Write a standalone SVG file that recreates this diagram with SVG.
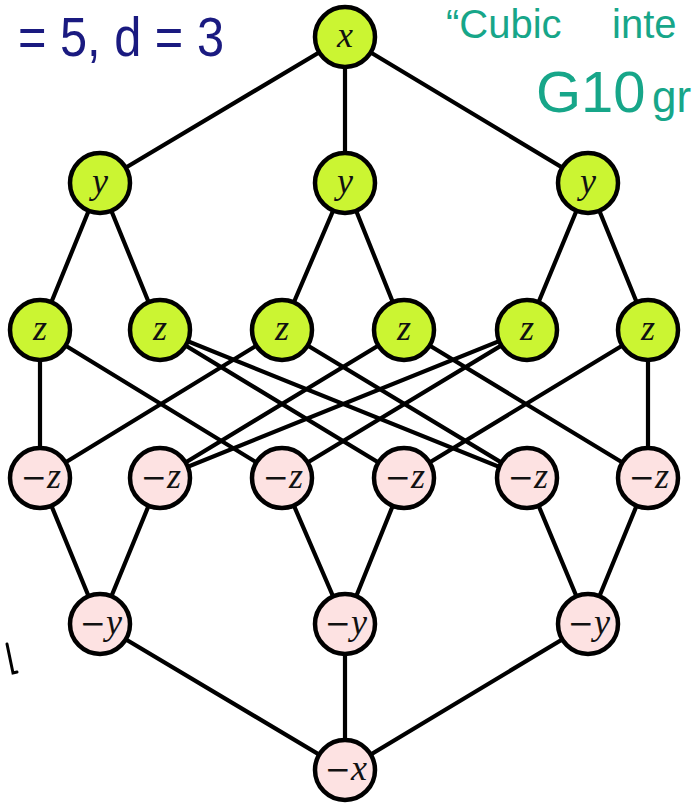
<svg xmlns="http://www.w3.org/2000/svg" width="692" height="808" viewBox="0 0 692 808">
  <defs>
    <style>
      .edge { stroke: #000; stroke-width: 4.2; stroke-linecap: round; fill: none; }
      .pos circle { fill: #cbf532; stroke: #000; stroke-width: 4.5; }
      .neg circle { fill: #fde2e2; stroke: #000; stroke-width: 4.5; }
      .lbl { font-family: "Liberation Serif", "Times New Roman", serif; font-style: italic; font-size: 36px; fill: #111; text-anchor: middle; }
      .minus { font-family: "DejaVu Serif", serif; font-style: normal; font-size: 31px; }
      .ink-blue { font-family: "Liberation Sans", Arial, sans-serif; fill: #1a1a80; }
      .ink-teal { font-family: "Liberation Sans", Arial, sans-serif; fill: #17a689; }
    </style>
  </defs>

  <rect width="692" height="808" fill="#fff"/>

  <!-- handwritten notes -->
  <text class="ink-blue" x="18" y="56" font-size="56" textLength="206" lengthAdjust="spacingAndGlyphs">= 5, d = 3</text>
  <text class="ink-teal" x="446" y="38" font-size="40">“Cubic</text>
  <text class="ink-teal" x="612" y="38" font-size="40">inte</text>
  <text class="ink-teal" x="536" y="112" font-size="58">G10</text>
  <text class="ink-teal" x="652" y="112" font-size="44">gr</text>
  <path d="M7,644 L13,673 L17,672" stroke="#000" stroke-width="3" fill="none" stroke-linecap="round"/>

  <!-- connectors -->
  <g id="edges">
    <line class="edge" x1="345" y1="37" x2="100" y2="183"/>
    <line class="edge" x1="345" y1="37" x2="345" y2="183"/>
    <line class="edge" x1="345" y1="37" x2="588" y2="183"/>

    <line class="edge" x1="100" y1="183" x2="40" y2="330"/>
    <line class="edge" x1="100" y1="183" x2="160" y2="330"/>
    <line class="edge" x1="345" y1="183" x2="282" y2="330"/>
    <line class="edge" x1="345" y1="183" x2="404" y2="330"/>
    <line class="edge" x1="588" y1="183" x2="527" y2="330"/>
    <line class="edge" x1="588" y1="183" x2="648" y2="330"/>

    <line class="edge" x1="40" y1="330" x2="40" y2="478"/>
    <line class="edge" x1="40" y1="330" x2="282" y2="478"/>
    <line class="edge" x1="160" y1="330" x2="404" y2="478"/>
    <line class="edge" x1="160" y1="330" x2="527" y2="478"/>
    <line class="edge" x1="282" y1="330" x2="40" y2="478"/>
    <line class="edge" x1="282" y1="330" x2="527" y2="478"/>
    <line class="edge" x1="404" y1="330" x2="160" y2="478"/>
    <line class="edge" x1="404" y1="330" x2="648" y2="478"/>
    <line class="edge" x1="527" y1="330" x2="160" y2="478"/>
    <line class="edge" x1="527" y1="330" x2="282" y2="478"/>
    <line class="edge" x1="648" y1="330" x2="648" y2="478"/>
    <line class="edge" x1="648" y1="330" x2="404" y2="478"/>

    <line class="edge" x1="40" y1="478" x2="100" y2="624"/>
    <line class="edge" x1="160" y1="478" x2="100" y2="624"/>
    <line class="edge" x1="282" y1="478" x2="345" y2="624"/>
    <line class="edge" x1="404" y1="478" x2="345" y2="624"/>
    <line class="edge" x1="527" y1="478" x2="588" y2="624"/>
    <line class="edge" x1="648" y1="478" x2="588" y2="624"/>

    <line class="edge" x1="100" y1="624" x2="345" y2="770"/>
    <line class="edge" x1="345" y1="624" x2="345" y2="770"/>
    <line class="edge" x1="588" y1="624" x2="345" y2="770"/>
  </g>

  <!-- positive layer -->
  <g id="x" class="pos"><circle cx="345" cy="37" r="30"/><text class="lbl" x="345" y="47">x</text></g>
  <g id="y1" class="pos"><circle cx="100" cy="183" r="30"/><text class="lbl" x="100" y="193">y</text></g>
  <g id="y2" class="pos"><circle cx="345" cy="183" r="30"/><text class="lbl" x="345" y="193">y</text></g>
  <g id="y3" class="pos"><circle cx="588" cy="183" r="30"/><text class="lbl" x="588" y="193">y</text></g>
  <g id="z1" class="pos"><circle cx="40" cy="330" r="30"/><text class="lbl" x="40" y="340">z</text></g>
  <g id="z2" class="pos"><circle cx="160" cy="330" r="30"/><text class="lbl" x="160" y="340">z</text></g>
  <g id="z3" class="pos"><circle cx="282" cy="330" r="30"/><text class="lbl" x="282" y="340">z</text></g>
  <g id="z4" class="pos"><circle cx="404" cy="330" r="30"/><text class="lbl" x="404" y="340">z</text></g>
  <g id="z5" class="pos"><circle cx="527" cy="330" r="30"/><text class="lbl" x="527" y="340">z</text></g>
  <g id="z6" class="pos"><circle cx="648" cy="330" r="30"/><text class="lbl" x="648" y="340">z</text></g>

  <!-- negative layer -->
  <g id="nz1" class="neg"><circle cx="40" cy="478" r="30"/><text class="lbl" x="41" y="488"><tspan class="minus">−</tspan>z</text></g>
  <g id="nz2" class="neg"><circle cx="160" cy="478" r="30"/><text class="lbl" x="161" y="488"><tspan class="minus">−</tspan>z</text></g>
  <g id="nz3" class="neg"><circle cx="282" cy="478" r="30"/><text class="lbl" x="283" y="488"><tspan class="minus">−</tspan>z</text></g>
  <g id="nz4" class="neg"><circle cx="404" cy="478" r="30"/><text class="lbl" x="405" y="488"><tspan class="minus">−</tspan>z</text></g>
  <g id="nz5" class="neg"><circle cx="527" cy="478" r="30"/><text class="lbl" x="528" y="488"><tspan class="minus">−</tspan>z</text></g>
  <g id="nz6" class="neg"><circle cx="648" cy="478" r="30"/><text class="lbl" x="649" y="488"><tspan class="minus">−</tspan>z</text></g>
  <g id="ny1" class="neg"><circle cx="100" cy="624" r="30"/><text class="lbl" x="101" y="634"><tspan class="minus">−</tspan>y</text></g>
  <g id="ny2" class="neg"><circle cx="345" cy="624" r="30"/><text class="lbl" x="346" y="634"><tspan class="minus">−</tspan>y</text></g>
  <g id="ny3" class="neg"><circle cx="588" cy="624" r="30"/><text class="lbl" x="589" y="634"><tspan class="minus">−</tspan>y</text></g>
  <g id="nx" class="neg"><circle cx="345" cy="770" r="30"/><text class="lbl" x="346" y="780"><tspan class="minus">−</tspan>x</text></g>
</svg>
